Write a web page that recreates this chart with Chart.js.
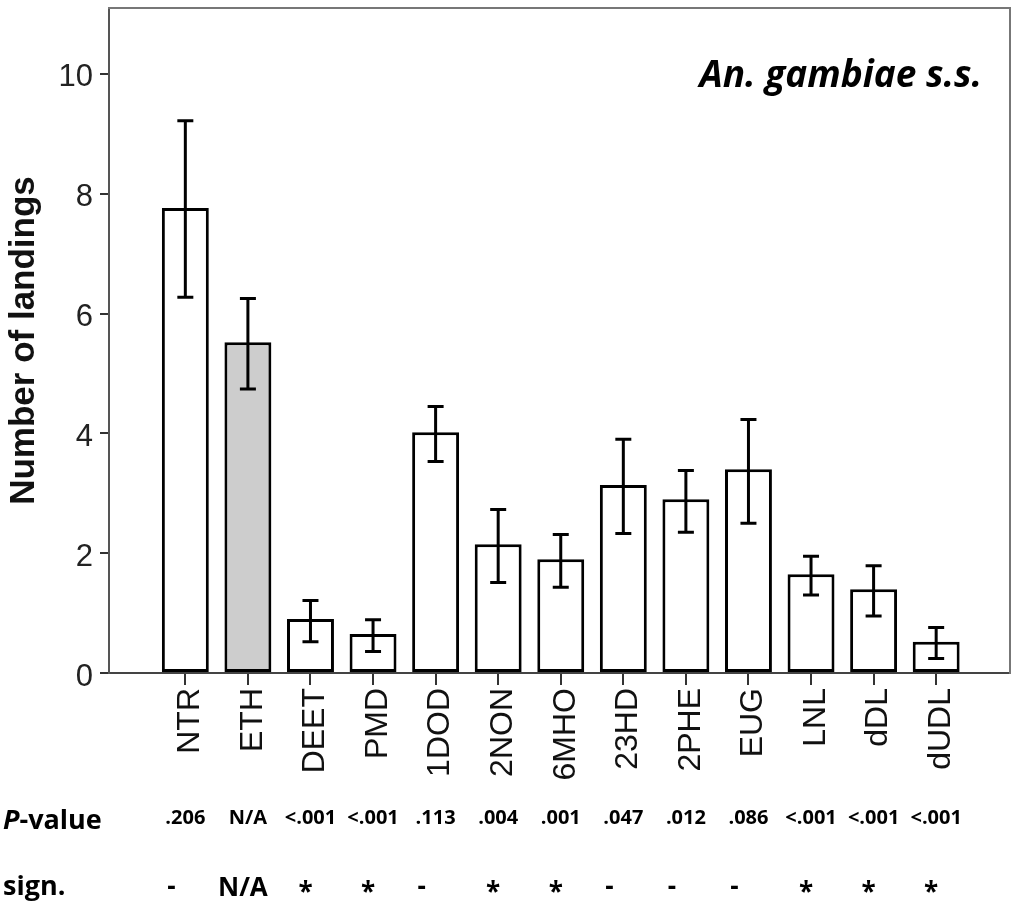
<!DOCTYPE html>
<html>
<head>
<meta charset="utf-8">
<script src="https://cdn.jsdelivr.net/npm/chart.js@4.4.1/dist/chart.umd.min.js"></script>
<style>
  html, body { margin: 0; padding: 0; background: #fff; }
  canvas { display: block; }
</style>
</head>
<body>
<canvas id="chart" width="1011" height="902"></canvas>
<script>
// Mean number of landings per treatment, with the ends of each error bar
const categories   = ['NTR', 'ETH', 'DEET', 'PMD', '1DOD', '2NON', '6MHO', '23HD', '2PHE', 'EUG', 'LNL', 'dDL', 'dUDL'];
const meanLandings = [7.76, 5.52, 0.90, 0.65, 4.02, 2.15, 1.90, 3.14, 2.90, 3.40, 1.65, 1.40, 0.52];
const errLower     = [6.27, 4.74, 0.52, 0.36, 3.53, 1.51, 1.43, 2.33, 2.35, 2.50, 1.30, 0.95, 0.24];
const errUpper     = [9.22, 6.25, 1.21, 0.89, 4.45, 2.73, 2.31, 3.90, 3.38, 4.23, 1.95, 1.79, 0.76];
const pValues      = ['.206', 'N/A', '<.001', '<.001', '.113', '.004', '.001', '.047', '.012', '.086', '<.001', '<.001', '<.001'];
const significance = ['-', 'N/A', '*', '*', '-', '*', '*', '-', '-', '-', '*', '*', '*'];
const yTickValues  = [0, 2, 4, 6, 8, 10];
const controlCategory = 'ETH';

const TEXT_FONT = '"Open Sans", "Liberation Sans", sans-serif';

Chart.defaults.font.family = '"Liberation Sans", Arial, sans-serif';
Chart.defaults.color = '#111';

// Vertical error bars with caps, placed on each bar through the y scale
const errorBars = {
  id: 'errorBars',
  afterDatasetsDraw(chart) {
    const { ctx, scales: { y } } = chart;
    const meta = chart.getDatasetMeta(0);
    const cap = 8;
    ctx.save();
    ctx.strokeStyle = '#000';
    ctx.lineWidth = 3;
    ctx.lineCap = 'butt';
    meta.data.forEach((bar, i) => {
      const x = bar.x;
      const yHi = y.getPixelForValue(errUpper[i]);
      const yLo = y.getPixelForValue(errLower[i]);
      ctx.beginPath();
      ctx.moveTo(x, yHi); ctx.lineTo(x, yLo);
      ctx.moveTo(x - cap, yHi); ctx.lineTo(x + cap, yHi);
      ctx.moveTo(x - cap, yLo); ctx.lineTo(x + cap, yLo);
      ctx.stroke();
    });
    ctx.restore();
  }
};

// Species label inside the plot and the P-value / significance rows under the axis
const annotations = {
  id: 'annotations',
  afterDraw(chart) {
    const { ctx, chartArea, scales: { x } } = chart;
    ctx.save();
    ctx.fillStyle = '#000';

    ctx.font = `italic bold 37px ${TEXT_FONT}`;
    ctx.textAlign = 'right';
    ctx.textBaseline = 'alphabetic';
    ctx.fillText('An. gambiae s.s.', chartArea.right - 28, 87);

    // "P-value" row label with an italic P
    ctx.textAlign = 'left';
    ctx.font = `italic bold 27px ${TEXT_FONT}`;
    ctx.fillText('P', 3, 829);
    const pw = ctx.measureText('P').width;
    ctx.font = `bold 27px ${TEXT_FONT}`;
    ctx.fillText('-value', 3 + pw, 829);
    ctx.fillText('sign.', 3, 895);

    ctx.font = `bold 20px ${TEXT_FONT}`;
    ctx.textAlign = 'center';
    pValues.forEach((p, i) => {
      ctx.fillText(p, x.getPixelForValue(i), 824);
    });

    // significance marks, vertically centred on the row by their glyph box
    ctx.font = `bold 26px ${TEXT_FONT}`;
    ctx.textAlign = 'center';
    const rowMid = 886.5;
    significance.forEach((s, i) => {
      const m = ctx.measureText(s);
      const base = rowMid + (m.actualBoundingBoxAscent - m.actualBoundingBoxDescent) / 2;
      const shift = s === '-' ? -14 : -5;
      ctx.fillText(s, x.getPixelForValue(i) + shift, base);
    });
    ctx.restore();
  }
};

new Chart(document.getElementById('chart'), {
  type: 'bar',
  data: {
    datasets: [{
      data: meanLandings.map((v, i) => ({ x: i, y: v })),
      backgroundColor: categories.map(c => c === controlCategory ? '#cdcdcd' : '#ffffff'),
      borderColor: '#000',
      borderWidth: 3,
      borderSkipped: false,
      categoryPercentage: 1,
      barPercentage: 0.75
    }]
  },
  options: {
    responsive: false,
    animation: false,
    layout: { padding: { top: 8, right: 1, bottom: 0, left: 0 } },
    plugins: { legend: { display: false }, tooltip: { enabled: false } },
    scales: {
      x: {
        type: 'linear',
        position: 'bottom',
        offset: false,
        min: -1.22,
        max: 13.18,
        afterBuildTicks: s => { s.ticks = categories.map((_, i) => ({ value: i })); },
        afterFit: s => { s.height = 229; s.paddingLeft = 0; s.paddingRight = 0; },
        grid: { offset: false, drawOnChartArea: false, drawTicks: true, tickLength: 12, color: '#333', lineWidth: 2 },
        border: { display: true, color: '#444', width: 2 },
        ticks: {
          autoSkip: false,
          minRotation: 90,
          maxRotation: 90,
          padding: 3,
          labelOffset: 5,
          color: '#111',
          font: { size: 32 },
          callback: v => categories[v] ?? ''
        }
      },
      y: {
        min: 0,
        max: 11.1,
        afterBuildTicks: s => { s.ticks = yTickValues.map(v => ({ value: v })); },
        afterFit: s => { s.width = 109; s.paddingTop = 0; s.paddingBottom = 0; },
        grid: { drawOnChartArea: false, drawTicks: true, tickLength: 9, color: '#333', lineWidth: 2 },
        border: { display: true, color: '#555', width: 2 },
        ticks: { padding: 7, color: '#222', font: { size: 31 }, labelOffset: 4 },
        title: {
          display: true,
          text: 'Number of landings',
          color: '#111',
          font: { size: 35, weight: 'bold' },
          padding: { top: 3, bottom: 0 }
        }
      },
      frameTop: {
        type: 'linear',
        position: 'top',
        min: 0, max: 1,
        afterFit: s => { s.height = 0; s.paddingLeft = 0; s.paddingRight = 0; },
        ticks: { display: false },
        grid: { drawOnChartArea: false, drawTicks: false },
        border: { display: true, color: '#777', width: 2 }
      },
      frameRight: {
        type: 'linear',
        position: 'right',
        min: 0, max: 1,
        afterFit: s => { s.width = 0; s.paddingTop = 0; s.paddingBottom = 0; },
        ticks: { display: false },
        grid: { drawOnChartArea: false, drawTicks: false },
        border: { display: true, color: '#777', width: 2 }
      }
    }
  },
  plugins: [errorBars, annotations]
});
</script>
</body>
</html>
